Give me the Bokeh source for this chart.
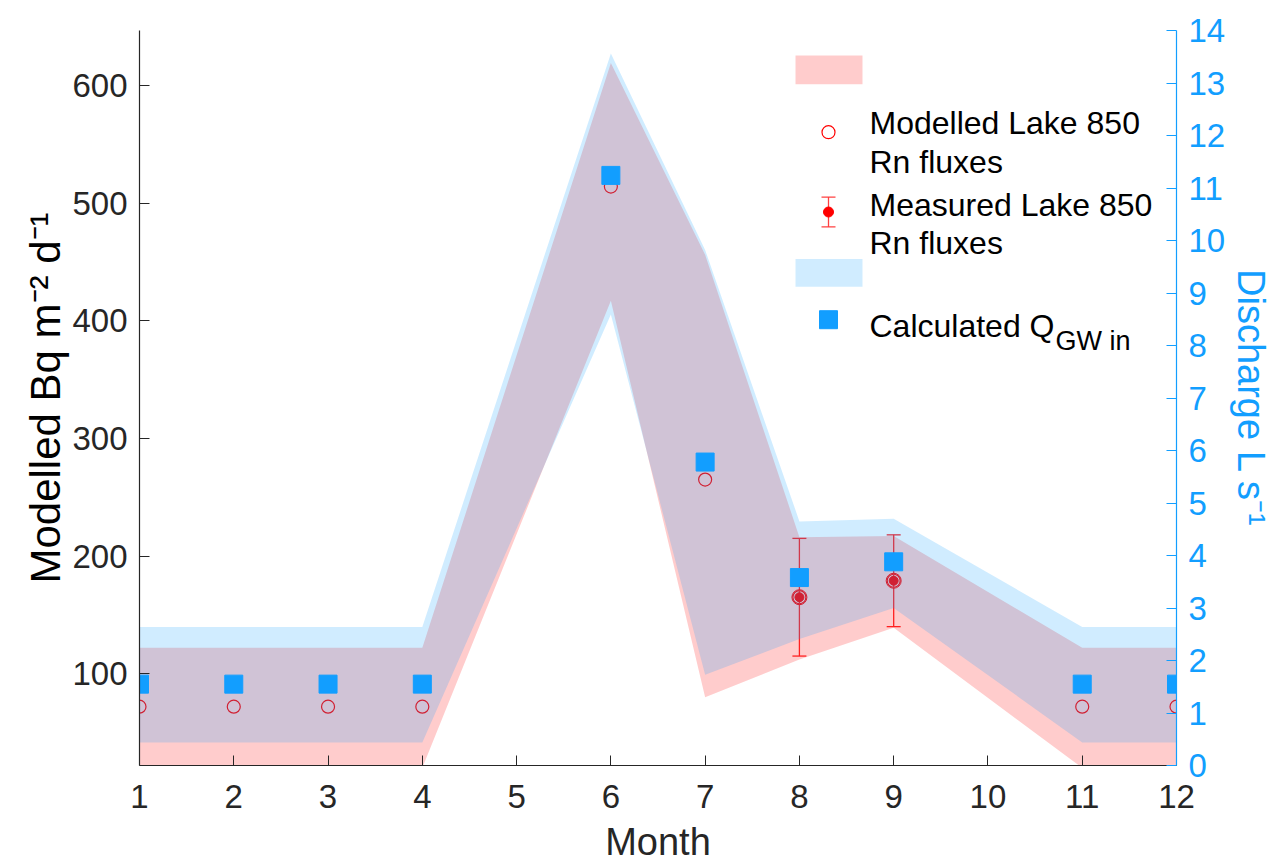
from bokeh.plotting import figure
from bokeh.models import Range1d, LinearAxis, FixedTicker, Label
from bokeh.embed import file_html
from bokeh.resources import INLINE

# ---------------- data ----------------
months = [1, 2, 3, 4, 6, 7, 8, 9, 11, 12]
month_ticks = list(range(1, 13))
flux_upper = [122, 122, 122, 122, 619, 456, 216, 217, 122, 122]
flux_lower = [20, 20, 20, 20, 417, 80, 112, 139, 20, 20]
modelled_flux = [72, 72, 72, 72, 514, 265, 165, 179, 72, 72]
measured_months = [8, 9]
measured_flux = [165, 179]
measured_err = [50, 39]
discharge_upper = [2.64, 2.64, 2.64, 2.64, 13.56, 9.82, 4.65, 4.70, 2.64, 2.64]
discharge_lower = [0.44, 0.44, 0.44, 0.44, 8.59, 1.73, 2.41, 3.0, 0.44, 0.44]
discharge = [1.55, 1.55, 1.55, 1.55, 11.24, 5.78, 3.58, 3.88, 1.55, 1.55]
left_ticks = [100, 200, 300, 400, 500, 600]
right_ticks = list(range(0, 15))

# ---------------- layout constants ----------------
FONT = "Liberation Sans"
DARK = "#262626"
BLUE = "#129EFF"
RED = "#FF0000"
L0, L1 = 22.0, 646.6
R0, R1 = 0.0, 14.0
FL, FR, FT, FB = 139, 1176, 30, 767  # frame edges in px

p = figure(width=1277, height=865, x_range=Range1d(1, 12), y_range=Range1d(L0, L1),
           output_backend="svg", toolbar_location=None,
           min_border_left=FL, min_border_right=1277 - FR,
           min_border_top=FT, min_border_bottom=865 - FB)
p.extra_y_ranges = {"right": Range1d(R0, R1)}
p.outline_line_color = None
p.xgrid.visible = False
p.ygrid.visible = False
p.background_fill_color = "white"
p.border_fill_color = "white"

# ---------------- data marks ----------------
p.varea(x=months, y1=flux_lower, y2=flux_upper, fill_color=RED, fill_alpha=0.2)
p.scatter(x=months, y=modelled_flux, marker="circle", size=13, fill_color=None,
          line_color=RED, line_width=1.2)
mlo = [v - e for v, e in zip(measured_flux, measured_err)]
mhi = [v + e for v, e in zip(measured_flux, measured_err)]
p.segment(x0=measured_months, y0=mlo, x1=measured_months, y1=mhi, line_color="#FF2020", line_width=1.3)
p.scatter(x=measured_months, y=mlo, marker="dash", size=14, line_color="#FF2020", line_width=1.3)
p.scatter(x=measured_months, y=mhi, marker="dash", size=14, line_color="#FF2020", line_width=1.3)
p.scatter(x=measured_months, y=measured_flux, marker="circle", size=9, fill_color=RED, line_color=RED)
p.scatter(x=measured_months, y=measured_flux, marker="circle", size=15, fill_color=None,
          line_color=RED, line_width=1.0)

p.varea(x=months, y1=discharge_lower, y2=discharge_upper, fill_color=BLUE, fill_alpha=0.2,
        y_range_name="right")
p.scatter(x=months, y=discharge, marker="square", size=18, fill_color=BLUE, line_color=BLUE,
          y_range_name="right")

# ---------------- axes ----------------
def style_axis(ax, color):
    ax.axis_line_color = color
    ax.axis_line_width = 1.2
    ax.major_tick_line_color = color
    ax.major_tick_in = 10
    ax.major_tick_out = 0
    ax.minor_tick_line_color = None
    ax.major_label_text_color = color
    ax.major_label_text_font = FONT
    ax.major_label_text_font_size = "33px"
    ax.major_label_standoff = 12
    ax.axis_label_text_color = color
    ax.axis_label_text_font = FONT
    ax.axis_label_text_font_size = "38px"
    ax.axis_label_text_font_style = "normal"

xa = p.xaxis[0]
xa.ticker = FixedTicker(ticks=month_ticks)
xa.axis_label = "Month"
style_axis(xa, DARK)
xa.major_label_standoff = 19
xa.axis_label_standoff = 10

ya = p.yaxis[0]
ya.ticker = FixedTicker(ticks=left_ticks)
ya.axis_label = "Modelled Bq m\u207b\u00b2 d\u207b\u00b9"
style_axis(ya, DARK)
ya.axis_label_text_color = "black"
ya.axis_label_text_font_size = "42px"
ya.axis_label_standoff = 0

ra = LinearAxis(y_range_name="right", ticker=FixedTicker(ticks=right_ticks),
                axis_label="Discharge L s\u207b\u00b9")
style_axis(ra, BLUE)
ra.axis_label_standoff = 2
p.add_layout(ra, "right")

# ---------------- helpers: pixel -> data (for hand-drawn legend) ----------------
def px2x(px):
    return 1 + (px - FL) / (FR - FL) * 11

def py2y(py):
    return L0 + (FB - py) / (FB - FT) * (L1 - L0)

# ---------------- legend (drawn by hand) ----------------
p.quad(left=[px2x(795)], right=[px2x(862)], top=[py2y(55)], bottom=[py2y(84)],
       fill_color=RED, fill_alpha=0.2, line_color=None)
p.scatter(x=[px2x(828)], y=[py2y(132)], marker="circle", size=13, fill_color=None,
          line_color=RED, line_width=1.2)
p.segment(x0=[px2x(828)], y0=[py2y(197)], x1=[px2x(828)], y1=[py2y(227)],
          line_color="#FF4040", line_width=1.3)
p.scatter(x=[px2x(828), px2x(828)], y=[py2y(197), py2y(227)], marker="dash", size=14,
          line_color="#FF4040", line_width=1.3)
p.scatter(x=[px2x(828)], y=[py2y(212)], marker="circle", size=10, fill_color=RED, line_color=RED)
p.quad(left=[px2x(795)], right=[px2x(862)], top=[py2y(259)], bottom=[py2y(287)],
       fill_color=BLUE, fill_alpha=0.2, line_color=None)
p.scatter(x=[px2x(828)], y=[py2y(320)], marker="square", size=18, fill_color=BLUE, line_color=BLUE)

legend_lines = [
    ("Modelled Lake 850", 869, 123, "32px"),
    ("Rn fluxes", 869, 162, "32px"),
    ("Measured Lake 850", 869, 205, "32px"),
    ("Rn fluxes", 869, 243, "32px"),
    ("Calculated Q", 869, 326, "32px"),
    ("GW in", 1055, 341, "27px"),
]
for txt, lx, ly, fs in legend_lines:
    p.add_layout(Label(x=px2x(lx), y=py2y(ly), text=txt, text_font=FONT, text_font_size=fs,
                       text_color="black", text_baseline="alphabetic", text_align="left"))

open("out.html", "w").write(file_html(p, INLINE))
